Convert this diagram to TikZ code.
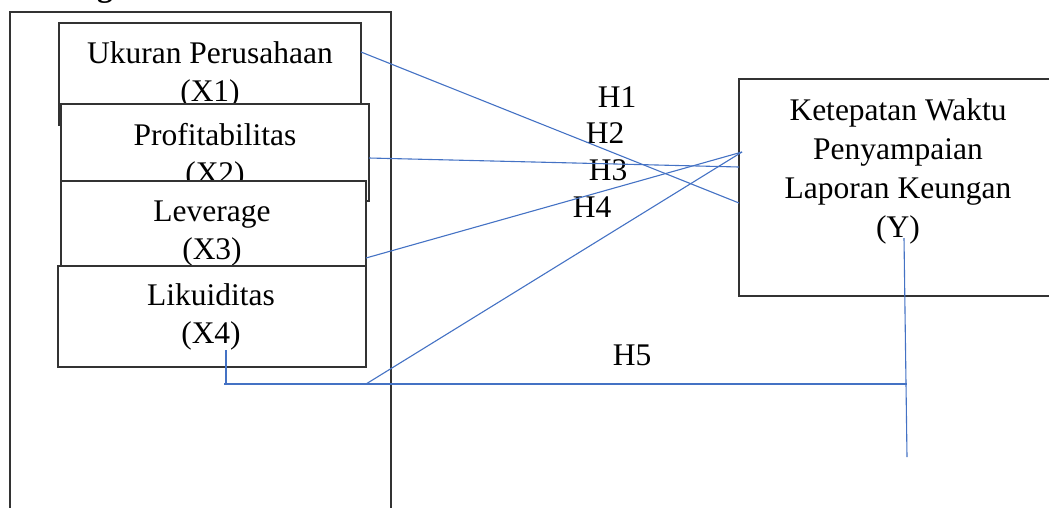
\documentclass[tikz,border=0pt]{standalone}
\usepackage{fontspec}
\setmainfont{Liberation Serif}
\begin{document}
\begin{tikzpicture}[x=1pt,y=-1pt,
  box/.style={draw=black!80,line width=1.1pt,fill=white,anchor=north west,inner sep=0pt,outer sep=0pt},
  lbl/.style={align=center,font=\fontsize{31.5}{38}\selectfont,inner sep=0pt},
  hlbl/.style={font=\fontsize{31.5}{38}\selectfont,inner sep=0pt,anchor=base},
  link/.style={draw={rgb,255:red,68;green,114;blue,196},line width=1.1pt}]
\useasboundingbox (0,0) rectangle (1049,507);
\node[font=\fontsize{31.5}{38}\selectfont\bfseries,inner sep=0pt,anchor=base] (head) at (105,-4) {g};
\node[box,minimum width=381pt,minimum height=520pt] (frame) at (10,12) {};
\node[box,minimum width=302pt,minimum height=102pt] (bX1) at (59,23) {};
\node[lbl] (tX1) at (210,74.5) {Ukuran Perusahaan\\(X1)};
\node[box,minimum width=308pt,minimum height=97pt] (bX2) at (61,104) {};
\node[lbl] (tX2) at (215,156.5) {Profitabilitas\\(X2)};
\node[box,minimum width=305pt,minimum height=85pt] (bX3) at (61,181) {};
\node[lbl] (tX3) at (212,233.5) {Leverage\\(X3)};
\node[box,minimum width=308pt,minimum height=101pt] (bX4) at (58,266) {};
\node[lbl] (tX4) at (211,317) {Likuiditas\\(X4)};
\node[box,minimum width=330pt,minimum height=217pt] (bY) at (739,79) {};
\node[lbl,font=\fontsize{31.5}{39}\selectfont] (tY) at (898,171) {Ketepatan Waktu\\Penyampaian\\Laporan Keungan\\(Y)};
\node[hlbl] (h1) at (617,107) {H1};
\node[hlbl] (h2) at (605,143) {H2};
\node[hlbl] (h3) at (608,180) {H3};
\node[hlbl] (h4) at (592,217) {H4};
\node[hlbl] (h5) at (632,365) {H5};
\coordinate (a1) at (361,52);
\coordinate (b1) at (739,203);
\coordinate (a2) at (369,158);
\coordinate (b2) at (739,167);
\coordinate (a3) at (366,258);
\coordinate (b3) at (742,152);
\coordinate (a4) at (366,384);
\coordinate (x4s) at (226,350);
\coordinate (x4c) at (224,384);
\coordinate (yc) at (907,384);
\coordinate (ys) at (904,238);
\coordinate (ye) at (907,457);
\draw[link] (a1) -- (b1);
\draw[link] (a2) -- (b2);
\draw[link] (a3) -- (b3);
\draw[link] (a4) -- (b3);
\draw[link] (x4s) -- (x4s |- x4c);
\draw[link] (x4c) -- (yc);
\draw[link] (ys) -- (ye);
\end{tikzpicture}
\end{document}
